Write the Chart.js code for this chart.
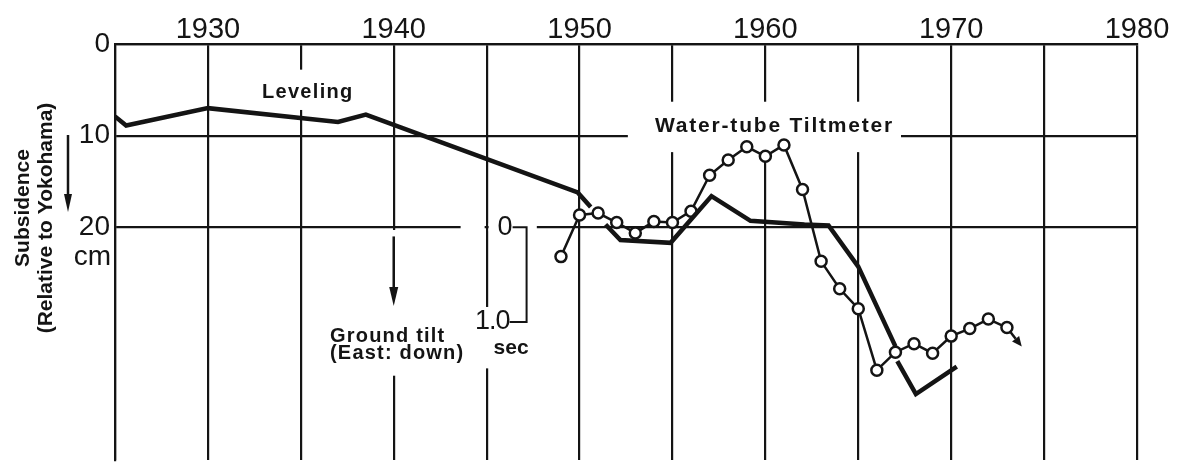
<!DOCTYPE html>
<html><head><meta charset="utf-8">
<script src="https://cdn.jsdelivr.net/npm/chart.js@4/dist/chart.umd.min.js"></script>
<style>html,body{margin:0;padding:0;background:#fff;}#wrap{width:1184px;height:468px;}</style>
</head><body><div id="wrap"><canvas id="c" width="1184" height="468"></canvas></div>
<script>
// ---- data ----
const xGridYears = [1925,1930,1935,1940,1945,1950,1955,1960,1965,1970,1975,1980];
const xTickLabels = ['1930','1940','1950','1960','1970','1980'];
const yTickValues = [0,10,20];
const yTickLabels = ['0','10','20'];

// Leveling (subsidence, cm relative to Yokohama); null = break in the line
const levelYears = [1925.0,1925.6,1930.0,1937.0,1938.5,1949.9,1950.6,1951.0,1951.4,1952.2,1954.9,1957.1,1959.2,1962.1,1963.4,1965.0,1967.0,1967.05,1967.1,1968.1,1970.3];
const levelCm    = [7.9,   8.9,   7.0,   8.5,   7.7,   16.2,  17.8,  null,  19.7,  21.4,  21.7,  16.6,  19.3,  19.7,  19.8,  24.3,  33.0,  null,   34.6,  38.2,  35.2];

// Water-tube tiltmeter (ground tilt, sec, east down)
const tiltYears = [1949,1950,1951,1952,1953,1954,1955,1956,1957,1958,1959,1960,1961,1962,1963,1964,1965,1966,1967,1968,1969,1970,1971,1972,1973];
const tiltSec   = [0.31,-0.13,-0.15,-0.05,0.06,-0.06,-0.05,-0.17,-0.55,-0.71,-0.85,-0.75,-0.87,-0.40,0.36,0.65,0.86,1.51,1.32,1.23,1.33,1.15,1.07,0.97,1.06];
const tiltArrowTip = [1973.8, 1.26];

// ---- scale relations ----
const cmMax = 45.4, tiltZeroCm = 20, cmPerSec = 10.33;
const ink = '#141414';
const FONT = '"Liberation Sans", Arial, sans-serif';

function arrow(ctx, x0, y0, x1, y1, lw, hl, hw){
  const a = Math.atan2(y1-y0, x1-x0);
  const bx = x1 - hl*Math.cos(a), by = y1 - hl*Math.sin(a);
  ctx.lineWidth = lw; ctx.strokeStyle = ink; ctx.fillStyle = ink;
  ctx.beginPath(); ctx.moveTo(x0,y0); ctx.lineTo(bx,by); ctx.stroke();
  ctx.beginPath();
  ctx.moveTo(x1,y1);
  ctx.lineTo(bx + hw/2*Math.sin(a), by - hw/2*Math.cos(a));
  ctx.lineTo(bx - hw/2*Math.sin(a), by + hw/2*Math.cos(a));
  ctx.closePath(); ctx.fill();
}

function noPad(s){ s.paddingTop = 0; s.paddingBottom = 0; s.paddingLeft = 0; s.paddingRight = 0; }

const annot = {
  id:'annot',
  beforeDatasetsDraw(chart){
    const {ctx, scales:{x, y}} = chart;
    const px = v => x.getPixelForValue(v), py = v => y.getPixelForValue(v);
    ctx.save(); ctx.fillStyle = '#fff';
    const vgap = (yr, c0, c1) => ctx.fillRect(px(yr)-5, py(c0), 10, py(c1)-py(c0));
    vgap(1935, 2.8, 7.2);          // behind "Leveling"
    vgap(1940, 20.3, 36.2);        // arrow + "Ground tilt"
    vgap(1945, 28.7, 35.4);        // "1.0 sec"
    // behind "Water-tube Tiltmeter"
    ctx.fillRect(px(1952.6), py(6.3), px(1967.3)-px(1952.6), py(11.8)-py(6.3));
    // break of the 20 cm line around the tilt "0"
    const h0 = py(20);
    ctx.fillRect(px(1943.6), h0-4, px(1945)-2-px(1943.6), 8);
    ctx.fillRect(px(1945)+2, h0-4, px(1947.7)-px(1945)-2, 8);
    ctx.restore();
  },
  afterDatasetsDraw(chart){
    const {ctx, scales:{x, y, tilt}} = chart;
    const px = v => x.getPixelForValue(v), py = v => y.getPixelForValue(v);
    ctx.save();
    ctx.fillStyle = ink; ctx.strokeStyle = ink;
    ctx.lineCap = 'butt';

    // tiltmeter end arrow
    const lastI = tiltYears.length-1;
    const ax0 = px(tiltYears[lastI]), ay0 = tilt.getPixelForValue(tiltSec[lastI]);
    const ax1 = px(tiltArrowTip[0]), ay1 = tilt.getPixelForValue(tiltArrowTip[1]);
    const ang = Math.atan2(ay1-ay0, ax1-ax0);
    arrow(ctx, ax0 + 6*Math.cos(ang), ay0 + 6*Math.sin(ang), ax1, ay1, 2.5, 10, 9);

    // tilt scale bracket
    const bx = px(1947.15);
    const t0 = tilt.getPixelForValue(0), t1 = tilt.getPixelForValue(1.0);
    ctx.lineWidth = 2;
    ctx.beginPath();
    ctx.moveTo(bx-14, t0); ctx.lineTo(bx, t0); ctx.lineTo(bx, t1); ctx.lineTo(bx-17, t1);
    ctx.stroke();
    ctx.font = '27px ' + FONT;
    ctx.textAlign = 'right'; ctx.textBaseline = 'middle';
    ctx.fillText('0', bx-14, t0);
    ctx.letterSpacing = '-1px';
    ctx.fillText('1.0', bx-17, t1);
    ctx.letterSpacing = '0px';
    ctx.font = 'bold 21px ' + FONT;
    ctx.textAlign = 'left'; ctx.textBaseline = 'alphabetic';
    ctx.fillText('sec', bx-33, t1+32);

    // Ground tilt arrow + label
    arrow(ctx, px(1940), py(21.0), px(1940), py(28.6), 2.5, 19, 9);
    ctx.font = 'bold 20px ' + FONT;
    ctx.letterSpacing = '1.2px';
    ctx.fillText('Ground tilt', 330, 342);
    ctx.fillText('(East: down)', 330, 359);

    // series labels
    ctx.font = 'bold 20px ' + FONT;
    ctx.letterSpacing = '1.3px';
    ctx.fillText('Leveling', 262, 98);
    ctx.font = 'bold 21px ' + FONT;
    ctx.letterSpacing = '1.8px';
    ctx.fillText('Water-tube Tiltmeter', 655, 132);
    ctx.letterSpacing = '0px';

    // unit under the 20 tick
    ctx.font = '28px ' + FONT;
    ctx.textAlign = 'right';
    ctx.fillText('cm', 111, py(20)+38);

    // rotated y-title
    ctx.font = 'bold 21px ' + FONT;
    ctx.textAlign = 'center'; ctx.textBaseline = 'middle';
    ctx.save(); ctx.translate(23, 208); ctx.rotate(-Math.PI/2); ctx.fillText('Subsidence', 0, 0); ctx.restore();
    ctx.save(); ctx.translate(46, 218); ctx.rotate(-Math.PI/2); ctx.fillText('(Relative to Yokohama)', 0, 0); ctx.restore();
    arrow(ctx, 68, 135, 68, 212, 2.5, 18, 8);
    ctx.restore();
  }
};

new Chart(document.getElementById('c').getContext('2d'), {
  type:'line',
  data:{datasets:[
    {label:'Leveling', data: levelYears.map((v,i)=>({x:v, y:levelCm[i]})), yAxisID:'y',
     borderColor:ink, borderWidth:4.5, pointRadius:0, spanGaps:false, tension:0, fill:false},
    {label:'Water-tube Tiltmeter', data: tiltYears.map((v,i)=>({x:v, y:tiltSec[i]})), yAxisID:'tilt',
     borderColor:ink, borderWidth:2.5, pointRadius:5.5, pointBorderWidth:2.5,
     pointBackgroundColor:'#fff', pointBorderColor:ink, tension:0, fill:false}
  ]},
  options:{
    responsive:false, animation:false, events:[],
    layout:{padding:{left:0, right:47, top:0, bottom:6}},
    plugins:{legend:{display:false}, tooltip:{enabled:false}},
    scales:{
      x:{type:'linear', position:'top', min:1925, max:1980,
        afterBuildTicks: s => { s.ticks = xGridYears.map(v=>({value:v})); },
        afterFit: s => { s.height = 44; noPad(s); },
        grid:{color:ink, lineWidth:2.2, drawTicks:false},
        border:{color:ink, width:2.2},
        ticks:{color:ink, font:{family:FONT, size:29}, padding:-3, maxRotation:0, autoSkip:false,
          callback: v => xTickLabels.includes(String(v)) ? String(v) : ''}
      },
      y:{type:'linear', position:'left', reverse:true, min:0, max:cmMax,
        afterBuildTicks: s => { s.ticks = yTickValues.map(v=>({value:v})); },
        afterFit: s => { s.width = 115; noPad(s); },
        grid:{color:ink, lineWidth:2.2, drawTicks:false},
        border:{color:ink, width:2.2},
        ticks:{color:ink, font:{family:FONT, size:28}, padding:5,
          callback: v => { const i = yTickValues.indexOf(v); return i >= 0 ? yTickLabels[i] : ''; }}
      },
      tilt:{type:'linear', display:false, reverse:true,
        afterFit: s => { noPad(s); },
        min: -tiltZeroCm/cmPerSec, max: (cmMax - tiltZeroCm)/cmPerSec}
    }
  },
  plugins:[annot]
});
</script></body></html>
